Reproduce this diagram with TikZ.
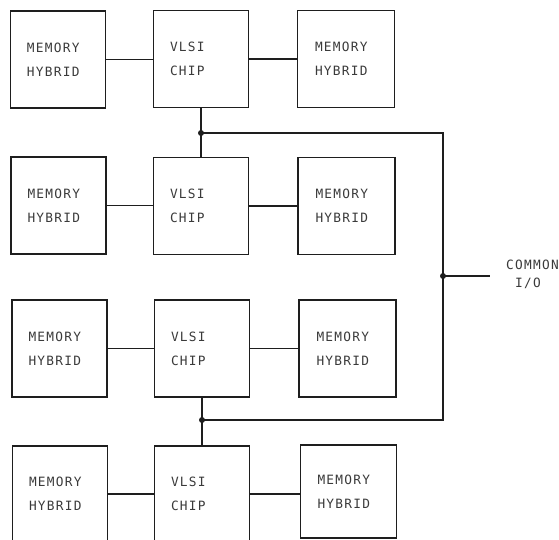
\documentclass[tikz,border=0pt]{standalone}
\usepackage{fontspec}
\newfontfamily\plotfont[LetterSpace=10]{DejaVu Sans Mono}
\definecolor{ink}{HTML}{1E1E1E}
\definecolor{txt}{HTML}{3A3A3A}
\begin{document}
\begin{tikzpicture}[x=1pt,y=-1pt,
  blk/.style={draw=ink, line width=1.5pt, rectangle, inner sep=0pt,
    minimum width=#1, minimum height=97pt, text width=62pt, align=left,
    text=txt, font={\plotfont\fontsize{12.8}{24}\selectfont}},
  wire/.style={draw=ink, line width=1.4pt},
  jdot/.style={circle, fill=ink, inner sep=0pt, minimum size=6pt},
  lbl/.style={text=txt, font={\plotfont\fontsize{12.8}{15}\selectfont}, inner sep=0pt}]
\useasboundingbox (0,0) rectangle (559,540);
% row 1
\node[blk=95pt] (L1) at (58,59.5) {MEMORY\\HYBRID};
\node[blk=95pt] (V1) at (201,59) {VLSI\\CHIP};
\node[blk=97pt] (R1) at (346,59) {MEMORY\\HYBRID};
% row 2
\node[blk=95pt] (L2) at (58.5,205.5) {MEMORY\\HYBRID};
\node[blk=95pt] (V2) at (201,206) {VLSI\\CHIP};
\node[blk=97pt] (R2) at (346.5,206) {MEMORY\\HYBRID};
% row 3
\node[blk=95pt] (L3) at (59.5,348.5) {MEMORY\\HYBRID};
\node[blk=95pt] (V3) at (202,348.5) {VLSI\\CHIP};
\node[blk=97pt] (R3) at (347.5,348.5) {MEMORY\\HYBRID};
% row 4
\node[blk=95pt, minimum height=96pt] (L4) at (60,494) {MEMORY\\HYBRID};
\node[blk=95pt, minimum height=96pt] (V4) at (202,494) {VLSI\\CHIP};
\node[blk=96pt, minimum height=93pt] (R4) at (348.5,491.5) {MEMORY\\HYBRID};
% row connectors
\foreach \r in {1,2,3,4}{
  \draw[wire] (L\r.east) -- (L\r.east -| V\r.west);
  \draw[wire] (V\r.east) -- (V\r.east -| R\r.west);
}
% bus
\coordinate (c1) at (443,133);
\coordinate (c2) at (443,420);
\coordinate (tap) at (443,276);
\coordinate (io) at (490,276);
\node[jdot] (j1) at (V1.south |- c1) {};
\node[jdot] (j2) at (V3.south |- c2) {};
\node[jdot] (j3) at (tap) {};
\draw[wire] (V1.south) -- (j1.center) -- (V2.north);
\draw[wire] (V3.south) -- (j2.center) -- (V4.north);
\draw[wire] (j1.center) -- (c1) -- (c2) -- (j2.center);
\draw[wire] (j3.center) -- (io);
\node[lbl, anchor=west] (common) at (506,265) {COMMON};
\node[lbl, anchor=west] (iolbl) at (515,283) {I/O};
\end{tikzpicture}
\end{document}
